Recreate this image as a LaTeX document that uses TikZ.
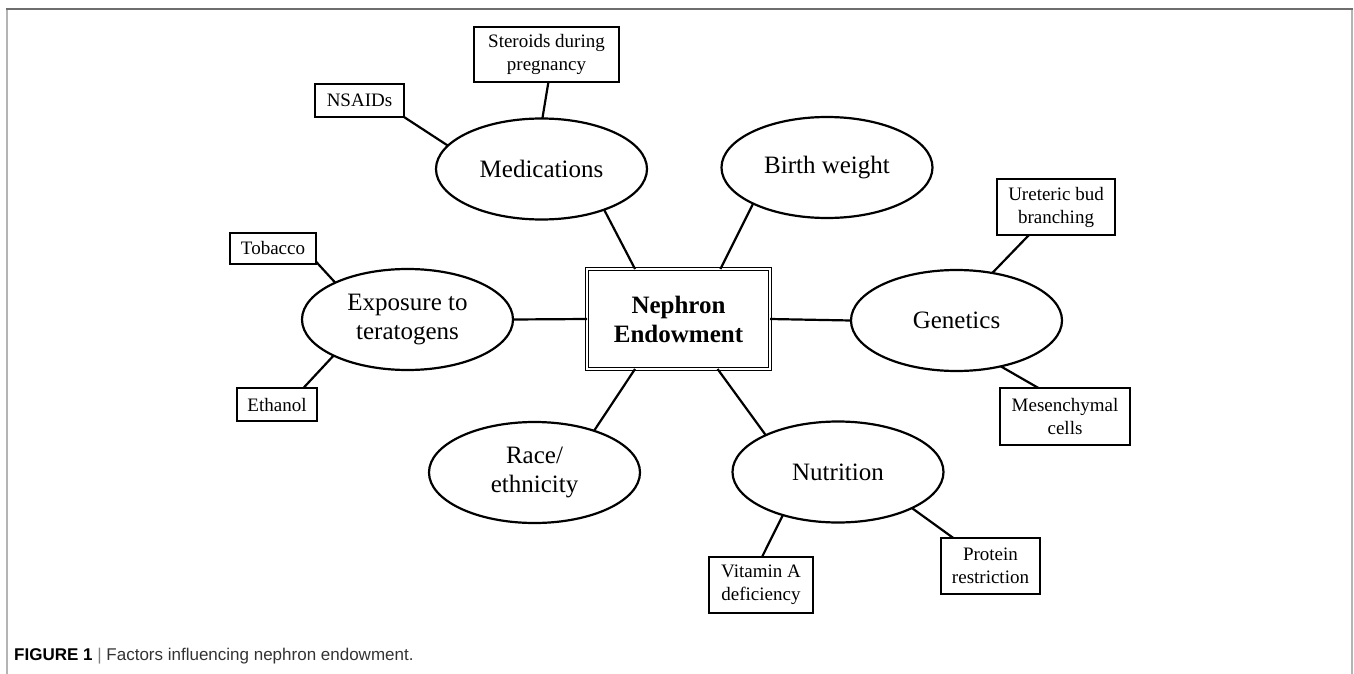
\documentclass[tikz,border=0pt]{standalone}
\usepackage{fontspec}
\setmainfont{Liberation Serif}
\newfontfamily\capfont{Liberation Sans}
\usetikzlibrary{shapes.geometric}
\definecolor{framedark}{HTML}{6E6E6E}
\definecolor{framelight}{HTML}{B4B4B4}
\definecolor{captext}{HTML}{333333}
\begin{document}
\begin{tikzpicture}[x=1pt,y=-1pt,
  factor/.style={ellipse, draw, line width=2.2pt, minimum width=211pt, minimum height=101pt,
    inner sep=0pt, outer sep=0pt, align=center, font=\fontsize{25}{29}\selectfont},
  leaf/.style={rectangle, draw, line width=2.2pt, inner sep=0pt, outer sep=0pt,
    align=center, font=\fontsize{19}{23}\selectfont},
  hub/.style={rectangle, draw, double, line width=1.2pt, double distance=1.6pt,
    minimum width=183pt, minimum height=100pt, inner sep=0pt, outer sep=0pt,
    align=center, font=\fontsize{25}{29}\selectfont\bfseries},
  link/.style={line width=2.2pt},
  framerule/.style={line width=2pt}]
\useasboundingbox (0,0) rectangle (1354,674);

% frame
\draw[framerule, framelight] (7,9) -- (7,674);
\draw[framerule, framelight] (1352,9) -- (1352,674);
\draw[framerule, framedark] (6,9) -- (1353,9);

% hub
\node[hub] (nc) at (678.5,319) {Nephron\\Endowment};

% factors
\node[factor] (med)  at (541.5,169)   {Medications};
\node[factor] (bw)   at (827,167.5)   {Birth weight};
\node[factor] (gen)  at (956.5,320.5) {Genetics};
\node[factor] (exp)  at (407.5,319.5) {Exposure to\\teratogens};
\node[factor] (race) at (534.5,472.5) {Race/\\ethnicity};
\node[factor] (nut)  at (838,472)     {Nutrition};

% leaves
\node[leaf, minimum width=145pt, minimum height=55pt] (ster) at (546.5,54.5) {Steroids during\\pregnancy};
\node[leaf, minimum width=89pt,  minimum height=33pt] (nsaid) at (359.5,100.5) {NSAIDs};
\node[leaf, minimum width=86pt,  minimum height=31pt] (tob) at (273,248.5) {Tobacco};
\node[leaf, minimum width=80pt,  minimum height=33pt] (eth) at (277,404.5) {Ethanol};
\node[leaf, minimum width=118pt, minimum height=56pt] (ure) at (1056,207) {Ureteric bud\\branching};
\node[leaf, minimum width=130pt, minimum height=57pt] (mes) at (1065,416.5) {Mesenchymal\\cells};
\node[leaf, minimum width=104pt, minimum height=56pt] (vit) at (761,585) {Vitamin A\\deficiency};
\node[leaf, minimum width=99pt,  minimum height=56pt] (pro) at (990.5,566) {Protein\\restriction};

% connectors
\draw[link] (med.-33.5) -- (nc.131.8);
\draw[link] (bw.206.6) -- (nc.50.1);
\draw[link] (exp.east) -- (nc.west);
\draw[link] (nc.east) -- (gen.west);
\draw[link] (nc.229.4) -- (race.35.5);
\draw[link] (nc.-52.4) -- (nut.153.4);

\draw[link] (nsaid.south east) -- (med.166);
\draw[link] (ster.-86) -- (med.89);
\draw[link] (tob.-17) -- (exp.153.3);
\draw[link] (eth.32) -- (exp.206.7);
\draw[link] (ure.-134) -- (gen.53);
\draw[link] (mes.133.5) -- (gen.-46.3);
\draw[link] (nut.218.5) -- (vit.88);
\draw[link] (nut.-26.6) -- (pro.143);

% caption
\node[anchor=base west, inner sep=0pt, text=captext, font=\capfont\fontsize{17}{20}\selectfont] (cap) at (14,660)
  {\textcolor{black}{\bfseries FIGURE 1} \textcolor{gray}{|} Factors influencing nephron endowment.};
\end{tikzpicture}
\end{document}
